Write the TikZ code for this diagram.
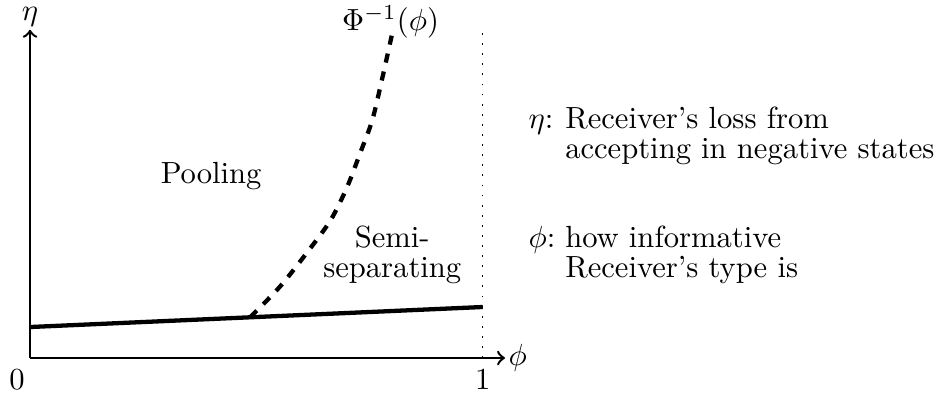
\documentclass[tikz,border=0pt]{standalone}
\begin{document}
\begin{tikzpicture}[
    axis/.style={thick,->},
    bound/.style={line width=1.4pt},
    key/.style={anchor=base west, inner sep=0pt}
]
\useasboundingbox (-0.345,-0.459) rectangle (10.52,4.112);

% Axes
\coordinate (o) at (0,0);
\coordinate (xtip) at (5.455,0);
\coordinate (ytip) at (0,3.77);
\draw[axis] (o) -- (xtip);
\draw[axis] (o) -- (ytip);
\node[anchor=base, inner sep=0pt] (eta) at (0,3.88) {$\eta$};
\node[right, inner sep=1pt] (phi) at (xtip) {$\phi$};
\node[below] (zero) at (-0.15,0) {0};
\node[below] (one) at (5.2,0) {1};

% Upper limit of phi
\coordinate (top) at (5.2,3.77);
\draw[dash pattern=on 0.6pt off 2.7pt] (5.2,0) -- (top);

% Boundaries
\coordinate (b0) at (0,0.356);
\coordinate (b1) at (5.2,0.586);
\draw[bound] (b0) -- (b1);
\draw[bound, dashed] plot[smooth] coordinates {(2.53,0.47) (2.87,0.82) (3.18,1.21) (3.45,1.58) (3.64,1.96) (3.79,2.35) (3.93,2.73) (4.04,3.19) (4.16,3.73)};
\node[anchor=base] (inv) at (4.14,3.76) {$\Phi^{-1}(\phi)$};

% Regions
\node[anchor=base] (pool) at (2.08,2.0) {Pooling};
\node[anchor=base, align=center] (semi) at (4.16,0.93) {Semi-\\[-2.5pt]separating};

% Legend
\node[key] (etakey) at (5.72,2.64) {$\eta$:};
\node[key, align=left] (etatext) at (6.14,2.29) {Receiver's loss from\\[-2pt]accepting in negative states};
\node[key] (phikey) at (5.72,1.275) {$\phi$:};
\node[key, align=left] (phitext) at (6.14,0.92) {how informative\\[-2pt]Receiver's type is};
\end{tikzpicture}
\end{document}
